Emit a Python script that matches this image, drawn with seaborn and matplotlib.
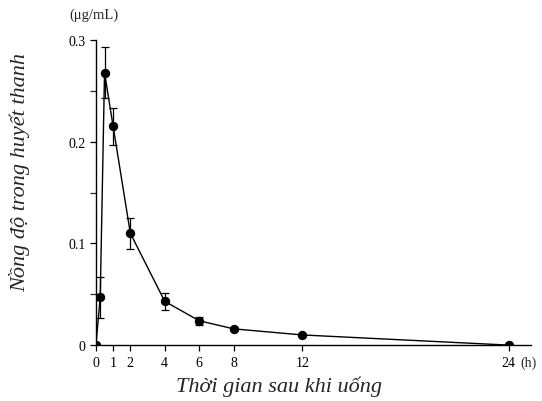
import numpy as np
import pandas as pd
import seaborn as sns
import matplotlib.pyplot as plt
from matplotlib.ticker import MultipleLocator, FixedLocator

# time after dosing (h), mean serum concentration (ug/mL) and error
hours = [0, 0.25, 0.5, 1, 2, 4, 6, 8, 12, 24]
conc = [0.0, 0.047, 0.268, 0.215, 0.110, 0.043, 0.024, 0.016, 0.010, 0.0]
err = [0.0, 0.020, 0.025, 0.018, 0.015, 0.008, 0.004, 0.0, 0.0, 0.0]
x_ticks = [0, 1, 2, 4, 6, 8, 12, 24]
y_ticks = [0, 0.1, 0.2, 0.3]
y_tick_labels = ["0", "0.1", "0.2", "0.3"]

df = pd.DataFrame({"hours": hours, "conc": conc, "err": err})

sns.set_style("ticks")
plt.rcParams["font.family"] = ["Liberation Serif", "DejaVu Serif"]

fig = plt.figure(figsize=(5.42, 4.02), dpi=100)
ax = fig.add_axes([0.177, 0.139, 0.803, 0.759])

ax.errorbar(df["hours"], df["conc"], yerr=df["err"], fmt="none",
            ecolor="black", elinewidth=0.9, capsize=3, capthick=0.9, zorder=2)
sns.lineplot(data=df, x="hours", y="conc", ax=ax, color="black", linewidth=1,
             marker="o", markersize=6, markeredgecolor="black", zorder=3)

ax.set_xlim(0, 25.3)
ax.set_ylim(0, 0.3)
ax.xaxis.set_major_locator(FixedLocator(x_ticks))
ax.set_yticks(y_ticks)
ax.set_yticklabels(y_tick_labels)
ax.yaxis.set_minor_locator(MultipleLocator(0.05))
ax.tick_params(axis="both", which="major", direction="out", length=4,
               width=0.9, labelsize=10, colors="black")
ax.tick_params(axis="y", which="minor", direction="out", length=4, width=0.9)
for s in ["top", "right"]:
    ax.spines[s].set_visible(False)
for s in ["left", "bottom"]:
    ax.spines[s].set_linewidth(1)
    ax.spines[s].set_color("black")

ax.set_xlabel("Thời gian sau khi uống", fontsize=16, style="italic", labelpad=4)
ax.xaxis.set_label_coords(0.42, -0.1)
ax.set_ylabel("Nồng độ trong huyết thanh", fontsize=16, style="italic")
ax.yaxis.set_label_coords(-0.15, 0.57)
ax.text(0.975, -0.010, "(h)", transform=ax.get_yaxis_transform(), fontsize=10,
        va="top", ha="left")
ax.text(-0.06, 1.085, "(μg/mL)", transform=ax.transAxes, fontsize=10.5,
        va="center", ha="left")

fig.savefig("out.png", dpi=100)
